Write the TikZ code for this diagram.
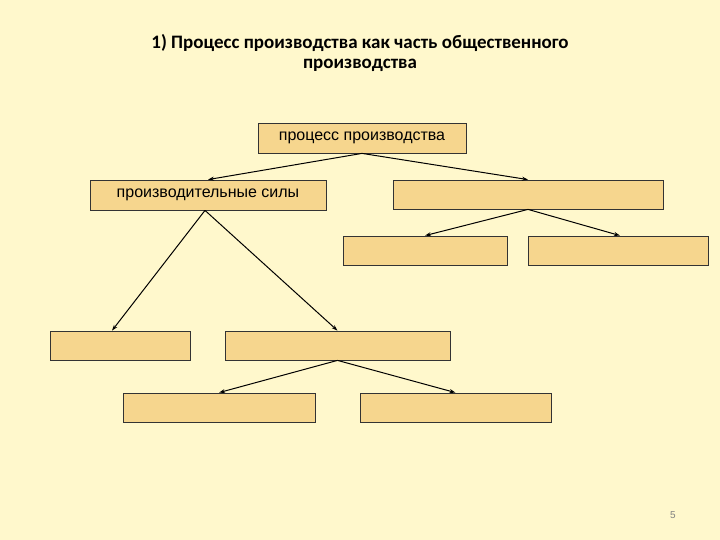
\documentclass[tikz,border=0pt]{standalone}
\usepackage{fontspec}
\usetikzlibrary{arrows.meta}
\setmainfont{Liberation Sans}
\newfontfamily\titlefont{Carlito}
\definecolor{bg}{RGB}{255,248,204}
\definecolor{boxc}{RGB}{246,214,142}
\begin{document}
\begin{tikzpicture}[x=1pt,y=-1pt,
  bx/.style={draw=black!80,fill=boxc,line width=0.8pt,inner sep=0pt},
  arr/.style={-{Stealth[length=6pt,width=4pt]},line width=1pt}]
\fill[bg] (0,0) rectangle (720,540);
\useasboundingbox (0,0) rectangle (720,540);
\node[align=center,font=\titlefont\bfseries\fontsize{19}{20}\selectfont] (title) at (360,53) {1) Процесс производства как часть общественного\\производства};
\node[bx,minimum width=208,minimum height=30,font=\fontsize{16}{18}\selectfont] (top) at (362,138) {процесс производства};
\node[bx,minimum width=236,minimum height=30,font=\fontsize{16}{18}\selectfont] (pc) at (208,195) {производительные силы};
\node[bx,minimum width=270,minimum height=29] (rt) at (528,194.5) {};
\node[bx,minimum width=164,minimum height=29] (r1) at (425,250.5) {};
\node[bx,minimum width=180,minimum height=29] (r2) at (618,250.5) {};
\node[bx,minimum width=140,minimum height=29] (l1) at (120,345.5) {};
\node[bx,minimum width=225,minimum height=29] (l2) at (337.5,345.5) {};
\node[bx,minimum width=192,minimum height=29] (b1) at (219,407.5) {};
\node[bx,minimum width=191,minimum height=29] (b2) at (455.5,407.5) {};
\node[text=black!50,font=\fontsize{10}{11}\selectfont] (pg) at (673,515) {5};
\draw[arr] (top.south) -- (pc.north);
\draw[arr] (top.south) -- (rt.north);
\draw[arr] (rt.south) -- (r1.north);
\draw[arr] (rt.south) -- (r2.north -| 620,0);
\draw[arr] (pc.south) ++(-3,0) coordinate (pcs) -- (l1.north -| 112,0);
\draw[arr] (pcs) -- (l2.north);
\draw[arr] (l2.south) -- (b1.north);
\draw[arr] (l2.south) -- (b2.north);
\end{tikzpicture}
\end{document}
